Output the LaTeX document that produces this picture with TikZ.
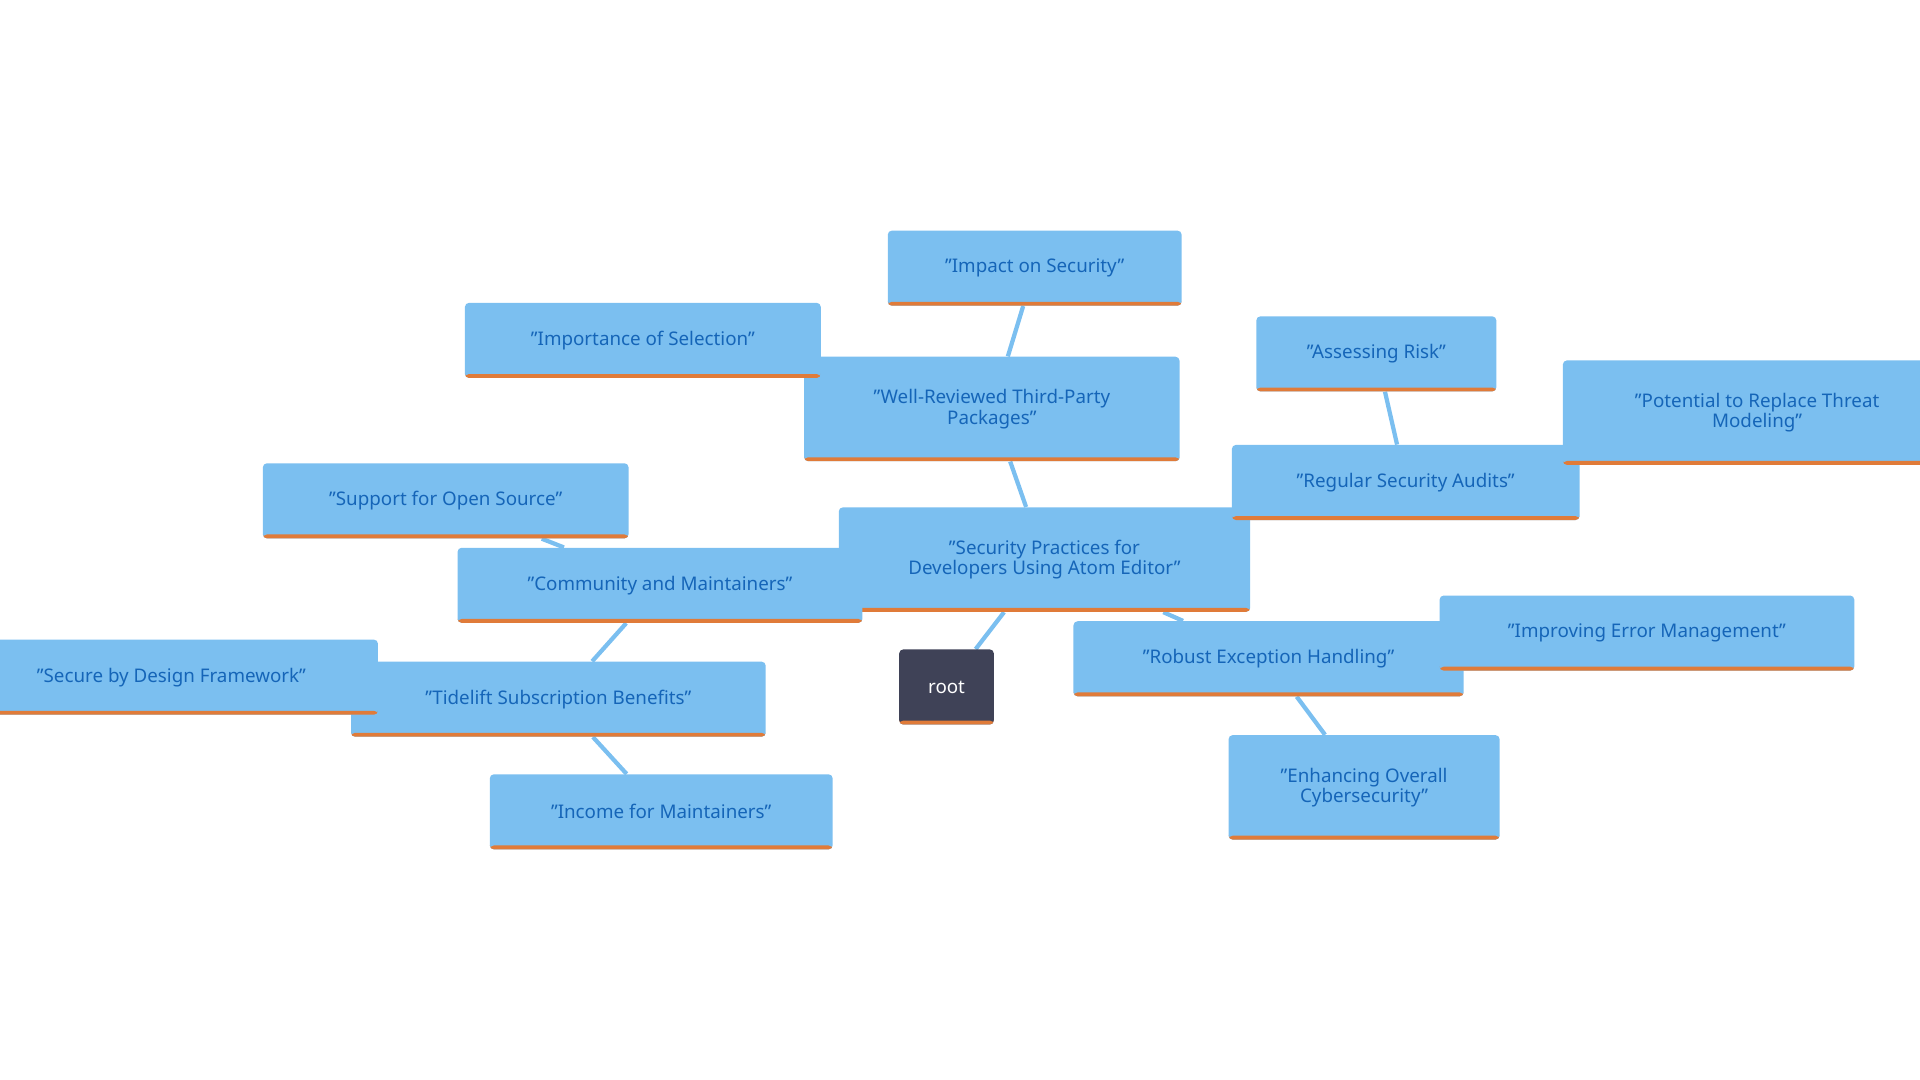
\documentclass[tikz,border=0pt]{standalone}
\usepackage{fontspec}
\setmainfont{Noto Sans}
\usetikzlibrary{backgrounds}
\definecolor{boxblue}{HTML}{7BBFF0}
\definecolor{txtblue}{HTML}{1565B8}
\definecolor{edgeorange}{HTML}{E07B39}
\definecolor{rootgray}{HTML}{3F4257}
\tikzset{
  topic/.style = {
    fill=boxblue, text=txtblue, rounded corners=2.5, align=center,
    font=\fontsize{11.5}{12.5}\selectfont, inner sep=0pt,
    path picture={\fill[edgeorange] (path picture bounding box.south west)
      rectangle ([yshift=2.4pt]path picture bounding box.south east);}
  },
  rootbox/.style = {topic, fill=rootgray, text=white},
  link/.style = {draw=boxblue, line width=2.6pt}
}
\begin{document}
\begin{tikzpicture}[x=0.75pt,y=-0.75pt]
  \useasboundingbox (0,0) rectangle (1568,882);
  \node[rootbox, minimum width=58, minimum height=46] (root) at (773,561) {root};
  \node[topic, minimum width=252, minimum height=64] (main) at (853,457) {"Security Practices for\\Developers Using Atom Editor"};
  \node[topic, minimum width=230, minimum height=64] (pkg) at (810,334) {"Well-Reviewed Third-Party\\Packages"};
  \node[topic, minimum width=180, minimum height=46] (impact) at (845,219) {"Impact on Security"};
  \node[topic, minimum width=218, minimum height=46] (select) at (525,278) {"Importance of Selection"};
  \node[topic, minimum width=248, minimum height=46] (comm) at (539,478) {"Community and Maintainers"};
  \node[topic, minimum width=224, minimum height=46] (oss) at (364,409) {"Support for Open Source"};
  \node[topic, minimum width=254, minimum height=46] (tide) at (456,571) {"Tidelift Subscription Benefits"};
  \node[topic, minimum width=253, minimum height=46] (design) at (140,553) {"Secure by Design Framework"};
  \node[topic, minimum width=210, minimum height=46] (income) at (540,663) {"Income for Maintainers"};
  \node[topic, minimum width=213, minimum height=46] (audit) at (1148,394) {"Regular Security Audits"};
  \node[topic, minimum width=147, minimum height=46] (risk) at (1124,289) {"Assessing Risk"};
  \node[topic, minimum width=238, minimum height=64] (threat) at (1435,337) {"Potential to Replace Threat\\Modeling"};
  \node[topic, minimum width=239, minimum height=46] (except) at (1036,538) {"Robust Exception Handling"};
  \node[topic, minimum width=254, minimum height=46] (error) at (1345,517) {"Improving Error Management"};
  \node[topic, minimum width=166, minimum height=64] (cyber) at (1114,643) {"Enhancing Overall\\Cybersecurity"};

  \begin{scope}[on background layer]
    \draw[link] (root) -- (main);
    \draw[link] (main) -- (pkg);
    \draw[link] (pkg) -- (impact);
    \draw[link] (pkg) -- (select);
    \draw[link] (main) -- (comm);
    \draw[link] (comm) -- (oss);
    \draw[link] (comm) -- (tide);
    \draw[link] (tide) -- (design);
    \draw[link] (tide) -- (income);
    \draw[link] (main) -- (audit);
    \draw[link] (audit) -- (risk);
    \draw[link] (audit) -- (threat);
    \draw[link] (main) -- (except);
    \draw[link] (except) -- (error);
    \draw[link] (except) -- (cyber);
  \end{scope}
\end{tikzpicture}
\end{document}
